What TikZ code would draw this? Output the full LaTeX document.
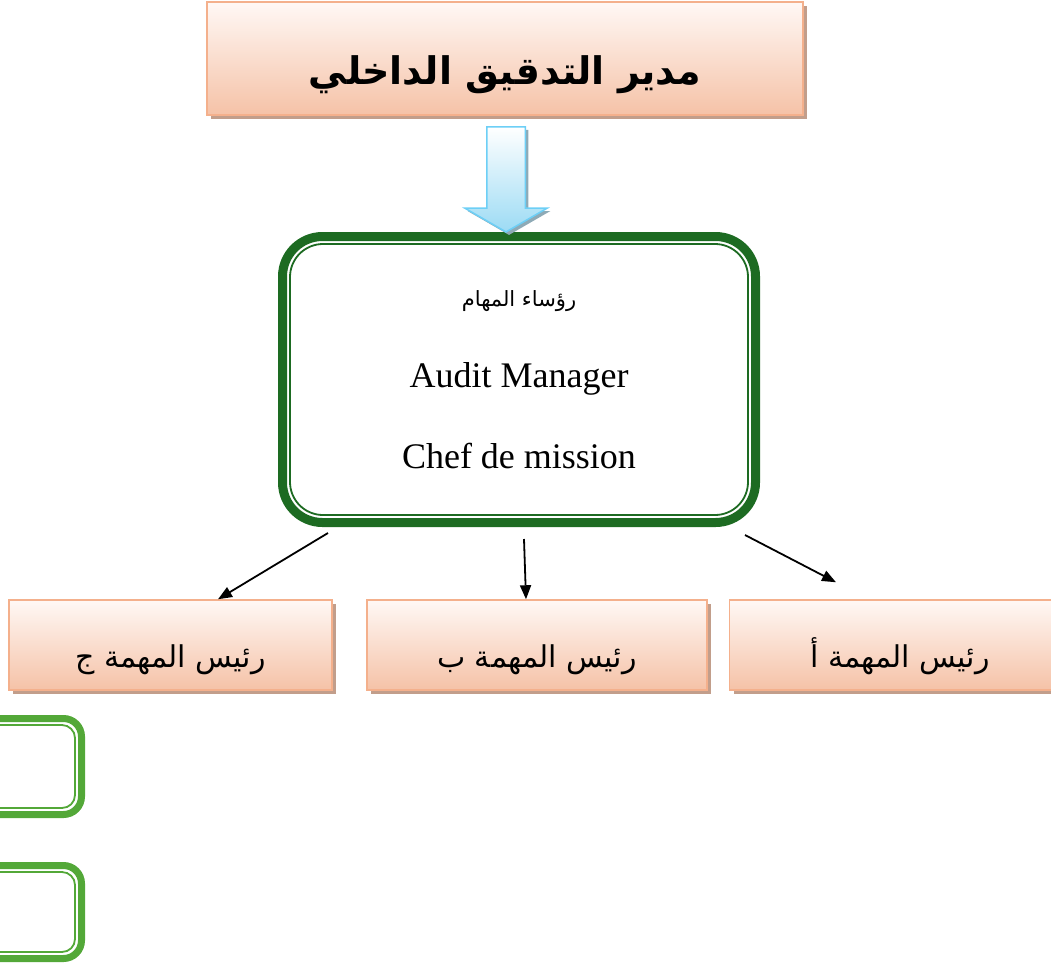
\documentclass[tikz,border=0pt]{standalone}
\usepackage{fontspec}
\setmainfont{Liberation Serif}
\newfontfamily\arabicfont[Script=Arabic]{DejaVu Sans}
\TeXXeTstate=1
\usepackage{tikz}
\usetikzlibrary {arrows.meta,
                 calc,
                 shapes.arrows,
                 shadows}
\definecolor{peachline}{HTML}{F4B08C}
\definecolor{peachtop}{HTML}{FFF8F5}
\definecolor{peachbot}{HTML}{F5C2A7}
\definecolor{tanshadow}{HTML}{C29E8B}
\definecolor{deepgreen}{HTML}{1D6B22}
\definecolor{leafgreen}{HTML}{53A838}
\definecolor{skyline}{HTML}{6DCFF6}
\definecolor{skybot}{HTML}{9CDBF4}
\definecolor{bluegray}{HTML}{8EAAB6}
\tikzset{
        base/.style={draw=peachline, line width=1.5pt, top color=peachtop,
                     bottom color=peachbot, inner sep=0pt,
                     drop shadow={shadow xshift=4pt, shadow yshift=-4pt,
                                  opacity=1, fill=tanshadow}},
        headbox/.style={base, minimum width=596pt, minimum height=113pt,
                        text height=52pt, text depth=0pt,
                        font=\arabicfont\bfseries\fontsize{38}{42}\selectfont},
        taskbox/.style={base, minimum height=90pt,
                        text height=44pt, text depth=0pt,
                        font=\arabicfont\fontsize{30}{34}\selectfont},
        innerrule/.style n args={3}{path picture={
                \draw[draw=#1, line width=1.8pt, rounded corners=#3]
                ([shift={(#2,-#2)}]path picture bounding box.north west) rectangle
                ([shift={(-#2,#2)}]path picture bounding box.south east);}},
        mgrbox/.style={draw=deepgreen, line width=9pt, rounded corners=40pt,
                       fill=white, minimum width=473pt, minimum height=286pt,
                       align=center, font=\fontsize{36}{81}\selectfont,
                       innerrule={deepgreen}{7.5pt}{33pt}},
        sparebox/.style={draw=leafgreen, line width=7pt, rounded corners=18pt,
                         fill=white, minimum width=300pt,
                         innerrule={leafgreen}{6.5pt}{13pt}},
        downarrow/.style={single arrow, shape border rotate=270, draw=skyline,
                          line width=1.5pt, top color=white, bottom color=skybot,
                          minimum height=105pt, inner sep=18.5pt,
                          single arrow head extend=22pt, single arrow tip angle=120,
                          drop shadow={shadow xshift=3pt, shadow yshift=-3pt,
                                       opacity=1, fill=bluegray}},
        myarrow/.style={-{Triangle[length=14pt, width=11pt]}, line width=1.8pt},
 }
\begin{document}
\begin{tikzpicture}[x=1pt, y=-1pt]
    \useasboundingbox (0,0) rectangle (1051,964);

    \node[headbox] (boss) at (505,58.5) {\beginR مدير التدقيق الداخلي\endR};
    \node[mgrbox] (mgr) at (519,379.5)
         {{\arabicfont\fontsize{21}{24}\selectfont\beginR رؤساء المهام\endR}\\
          Audit Manager\\ Chef de mission};
    \node[downarrow, xshift=-6pt] (link) at ($(boss.south)!0.5!(mgr.north)$) {};

    \node[taskbox, minimum width=323pt] (taskC) at (170.5,645) {\beginR رئيس المهمة ج\endR};
    \node[taskbox, minimum width=340pt] (taskB) at (537,645) {\beginR رئيس المهمة ب\endR};
    \node[taskbox, minimum width=341pt] (taskA) at (900,645) {\beginR رئيس المهمة أ\endR};

    \node[sparebox, minimum height=96pt] (spareA) at (-68.5,766.5) {};
    \node[sparebox, minimum height=93pt] (spareB) at (-68.5,912) {};

    \draw[myarrow] ([xshift=50pt, yshift=-6pt]mgr.south west) -- ([xshift=47.5pt]taskC.north);
    \draw[myarrow] ([xshift=5pt, yshift=-12pt]mgr.south) -- ([xshift=-11pt]taskB.north);
    \draw[myarrow] ([xshift=-15pt, yshift=-8pt]mgr.south east) -- ([xshift=-64pt, yshift=17pt]taskA.north);
\end{tikzpicture}
\end{document}
